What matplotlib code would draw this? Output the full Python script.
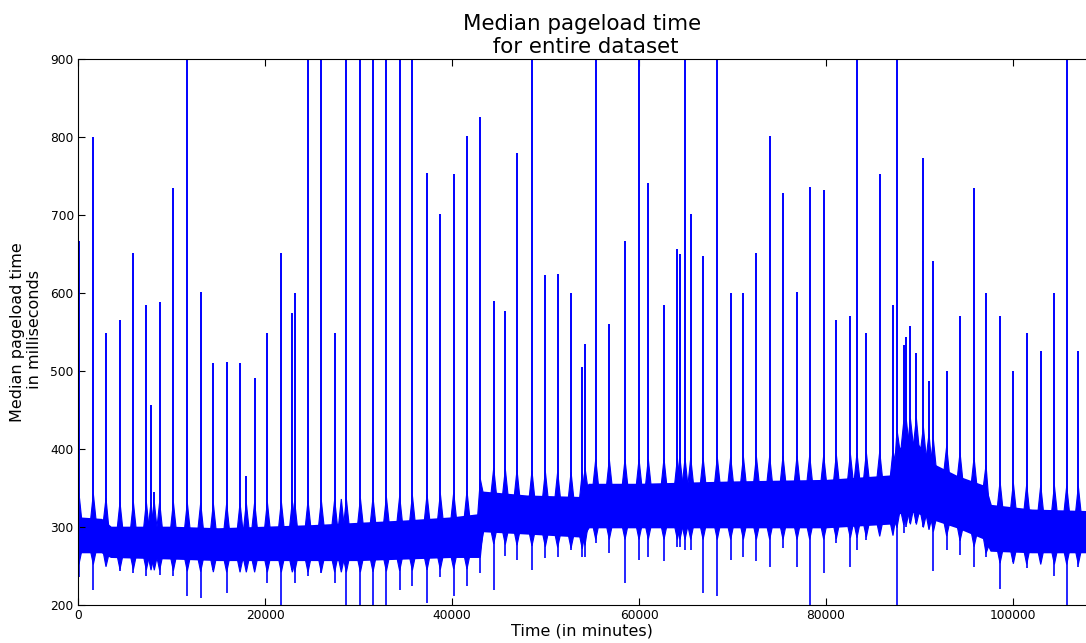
import numpy as np
import matplotlib.pyplot as plt

# daily peaks (minute, peak ms, dip ms); 1000 = runs off the top of the axis
spike_t = [100, 1640, 2995, 4490, 5920, 7310, 7810, 8160, 8730, 10200,
           11690, 13120, 14475, 15900, 17330, 18000, 18890, 20250, 21745, 22920,
           23170, 24600, 26020, 27450, 28160, 28700, 30200, 31550, 32980, 34400,
           35760, 37330, 38750, 40180, 41600, 43030, 44460, 45700, 46950, 48550,
           49980, 51300, 52730, 53930, 54220, 55370, 56820, 58500, 60000, 60990,
           62670, 64100, 64380, 64920, 65530, 66850, 68370, 69800, 71160, 72550,
           73970, 75400, 76900, 78250, 79750, 81100, 82600, 83310, 84310, 85740,
           87160, 87590, 88310, 88590, 89020, 89660, 90410, 91010, 91480, 92900,
           94330, 95830, 97110, 98610, 100030, 101460, 102960, 104420, 105740, 106980]
spike_peak = [667, 800, 549, 566, 651, 584, 457, 345, 588, 734,
              1000, 601, 510, 512, 510, 366, 491, 549, 651, 574,
              600, 1000, 1000, 549, 327, 1000, 1000, 1000, 1000, 1000,
              1000, 754, 701, 752, 801, 826, 590, 577, 780, 1000,
              623, 625, 600, 505, 535, 1000, 560, 667, 1000, 741,
              584, 657, 650, 1000, 701, 648, 1000, 600, 600, 651,
              801, 728, 601, 736, 732, 566, 571, 1000, 549, 752,
              584, 1000, 533, 544, 558, 523, 773, 487, 641, 500,
              570, 734, 600, 570, 500, 549, 526, 600, 1000, 526]
spike_dip = [236, 219, 255, 243, 241, 237, 260, 260, 239, 237,
             211, 209, 245, 215, 249, 260, 249, 228, 200, 245,
             228, 237, 241, 228, 260, 200, 200, 200, 200, 219,
             224, 203, 236, 211, 224, 241, 219, 263, 258, 245,
             260, 262, 271, 262, 262, 280, 267, 228, 258, 262,
             256, 275, 275, 270, 270, 215, 211, 258, 262, 256,
             249, 273, 249, 200, 241, 279, 249, 270, 283, 292,
             292, 200, 292, 300, 305, 305, 300, 300, 243, 271,
             264, 249, 262, 220, 255, 247, 255, 237, 200, 249]

# envelope of the dense noise band
band_t = [0, 2500, 3500, 10000, 15000, 20000, 25000, 30000, 35000, 40000,
          42800, 43300, 48000, 54000, 54600, 60000, 70000, 80000, 87200, 87700,
          89500, 91500, 94000, 97000, 97600, 102000, 108000]
band_lo = [268, 268, 262, 260, 258, 258, 258, 258, 260, 262,
           262, 295, 292, 288, 300, 300, 300, 300, 305, 318,
           320, 310, 300, 285, 270, 268, 268]
band_hi = [312, 310, 300, 300, 298, 300, 302, 305, 308, 312,
           316, 345, 340, 338, 355, 355, 358, 360, 366, 400,
           410, 380, 365, 352, 328, 322, 320]

fig = plt.figure(figsize=(10.86, 6.43), dpi=100, facecolor='white')
ax = fig.add_axes([78 / 1086, 38 / 643, 1008 / 1086, 546 / 643])

ax.fill_between(band_t, band_lo, band_hi, color='b', lw=1.2, edgecolor='b')

# the noise widens right around every daily peak
for t in spike_t:
    w = 280
    xs = [t - w, t, t + w]
    top = np.interp(xs, band_t, band_hi)
    bot = np.interp(xs, band_t, band_lo)
    ax.fill(xs + xs[::-1],
            [top[0], top[1] + 32, top[2], bot[2], bot[1] - 16, bot[0]],
            color='b', lw=0.8)

base = np.interp(spike_t, band_t, band_lo) + 15
ax.vlines(spike_t, base, spike_peak, color='b', lw=1.4)
ax.vlines(spike_t, spike_dip, base, color='b', lw=1.2)

ax.set_xlim(0, 107800)
ax.set_ylim(200, 900)
ax.set_xticks(range(0, 100001, 20000))
ax.set_yticks(range(200, 901, 100))
ax.tick_params(direction='in', top=True, right=False, length=5, labelsize=8.8, pad=3)
ax.spines['right'].set_visible(False)

ax.set_title("Median pageload time\n for entire dataset", fontsize=15.4, pad=4)
ax.set_xlabel("Time (in minutes)", fontsize=11.5, labelpad=1)
ax.set_ylabel("Median pageload time\n in milliseconds", fontsize=11.5, labelpad=6)

fig.savefig("out.png", dpi=100, facecolor='white')
